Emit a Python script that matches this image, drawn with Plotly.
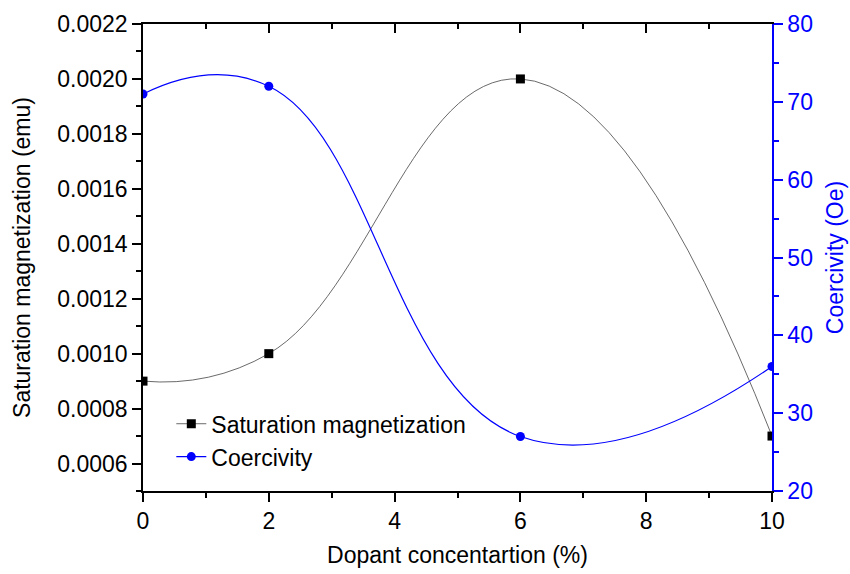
import plotly.graph_objects as go

dopant = [0, 2, 6, 10]
saturation = [0.0009, 0.0010, 0.0020, 0.0007]
coercivity = [71, 72, 27, 36]

FONT = "Liberation Sans, Arial, sans-serif"
FS = 23

fig = go.Figure()
fig.add_trace(go.Scatter(
    x=dopant, y=saturation, name="Saturation magnetization",
    mode="lines+markers", line=dict(color="#444444", width=0.8, shape="spline", smoothing=1.3),
    marker=dict(symbol="square", size=9, color="black"), yaxis="y"))
fig.add_trace(go.Scatter(
    x=dopant, y=coercivity, name="Coercivity",
    mode="lines+markers", line=dict(color="#0000FF", width=1.2, shape="spline", smoothing=1.3),
    marker=dict(symbol="circle", size=9, color="#0000FF"), yaxis="y2"))
# invisible trace to hold the top mirror axis
fig.add_trace(go.Scatter(x=[dopant[0]], y=[saturation[0]], xaxis="x2", yaxis="y",
                         mode="markers", marker=dict(opacity=0), showlegend=False, hoverinfo="skip"))

fig.update_layout(
    width=850, height=574,
    margin=dict(l=143, r=78, t=24, b=83),
    paper_bgcolor="white", plot_bgcolor="white",
    font=dict(family=FONT, size=FS, color="black"),
    showlegend=True,
    legend=dict(x=0.045, y=0.19, xanchor="left", yanchor="top", bgcolor="rgba(0,0,0,0)",
                font=dict(size=FS), tracegroupgap=0),
    xaxis=dict(range=[0, 10], dtick=2, tick0=0, showgrid=False, zeroline=False, automargin=False,
               showline=True, linecolor="black", linewidth=1.5,
               ticks="outside", ticklen=9, tickwidth=1.5, tickcolor="black",
               minor=dict(dtick=1, ticks="outside", ticklen=5, tickwidth=1.5, tickcolor="black"),
               title=dict(text="Dopant concentartion (%)", standoff=14, font=dict(size=FS)),
               tickfont=dict(size=FS)),
    xaxis2=dict(range=[0, 10], overlaying="x", side="top", dtick=2, tick0=0, automargin=False,
                showgrid=False, zeroline=False, showticklabels=False,
                showline=True, linecolor="black", linewidth=1.5,
                ticks="inside", ticklen=9, tickwidth=1.5, tickcolor="black",
                minor=dict(dtick=1, ticks="inside", ticklen=5, tickwidth=1.5, tickcolor="black")),
    yaxis=dict(range=[0.0005, 0.0022], dtick=0.0002, tick0=0.0006, tickformat=".4f", automargin=False,
               showgrid=False, zeroline=False, showline=True, linecolor="black", linewidth=1.5,
               ticks="outside", ticklen=9, tickwidth=1.5, tickcolor="black",
               minor=dict(dtick=0.0001, ticks="outside", ticklen=5, tickwidth=1.5, tickcolor="black"),
               title=dict(text="Saturation magnetization (emu)", standoff=20, font=dict(size=FS)),
               tickfont=dict(size=FS)),
    yaxis2=dict(range=[20, 80], dtick=10, overlaying="y", side="right", automargin=False,
                showgrid=False, zeroline=False, showline=True, linecolor="#0000FF", linewidth=1.5,
                ticks="outside", ticklen=9, tickwidth=1.5, tickcolor="#0000FF",
                minor=dict(dtick=5, ticks="outside", ticklen=5, tickwidth=1.5, tickcolor="#0000FF"),
                title=dict(text="Coercivity (Oe)", standoff=15, font=dict(size=FS, color="#0000FF")),
                tickfont=dict(size=FS, color="#0000FF")),
)

fig.write_html("out.html")
